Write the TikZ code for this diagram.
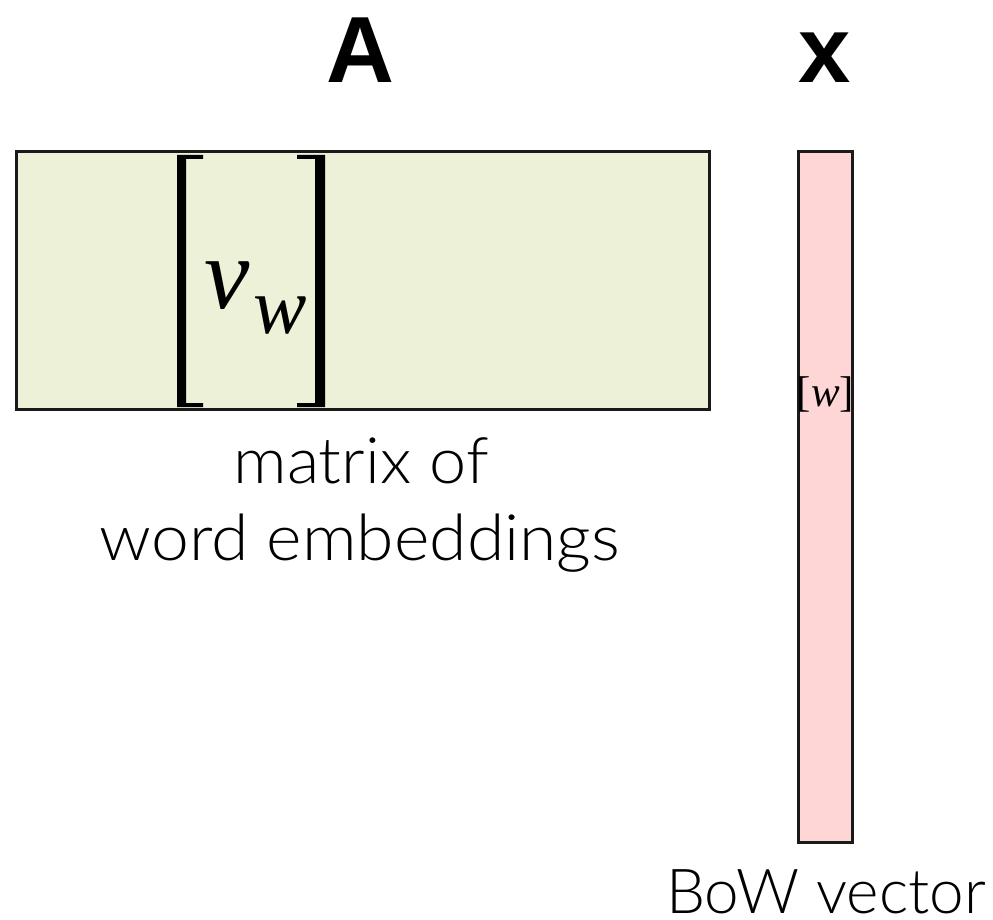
\documentclass[tikz,border=0pt]{standalone}
\usepackage{fontspec}
\newfontfamily\headfont{Liberation Sans}
\newfontfamily\lightfont{Lato Light}
\newfontfamily\mathserif{Liberation Serif}
\definecolor{embfill}{RGB}{236,241,215}
\definecolor{bowfill}{RGB}{255,214,214}
\definecolor{edge}{RGB}{26,26,26}
\tikzset{
  boxline/.style={draw=edge, line width=3.5pt},
  head/.style={inner sep=0pt, anchor=base, font=\headfont\bfseries\fontsize{94}{94}\selectfont},
  caption/.style={inner sep=0pt, anchor=base, font=\lightfont\fontsize{64}{64}\selectfont},
  brk/.style={fill=black, draw=none},
}
\begin{document}
\begin{tikzpicture}[x=1pt, y=-1pt]
  \useasboundingbox (0,0) rectangle (993,920);

  % matrix A and vector x
  \path[boxline, fill=embfill] (16.5,151.5) rectangle (709.5,409.5);
  \path[boxline, fill=bowfill] (798.5,151.5) rectangle (852.5,842.5);

  % titles
  \node[head] (titleA) at (360,83) {A};
  \node[head] (titleX) at (825,83) {x};

  % column bracket around v_w
  \fill[brk] (177,155) -- (203,155) -- (203,159) -- (186,159) -- (186,403)
             -- (203,403) -- (203,407) -- (177,407) -- cycle;
  \fill[brk] (325,155) -- (297,155) -- (297,159) -- (315,159) -- (315,403)
             -- (297,403) -- (297,407) -- (325,407) -- cycle;
  \node[inner sep=0pt, anchor=base west, font=\mathserif\itshape\fontsize{102}{102}\selectfont] (vsym) at (204,308) {v};
  \node[inner sep=0pt, anchor=base west, font=\mathserif\itshape\fontsize{80}{80}\selectfont] (wsub) at (253,333) {w};

  % entry [w] of the BoW vector
  \node[inner sep=0pt, anchor=base, font=\mathserif\fontsize{43}{43}\selectfont] (wentry) at (825.5,406) {[\textit{w}]};

  % captions
  \node[caption, xscale=1.04] (capA1) at (361,483) {matrix of};
  \node[caption, xscale=1.06] (capA2) at (360,560) {word embeddings};
  \node[caption, font=\lightfont\fontsize{62}{62}\selectfont] (capX) at (826,913) {BoW vector};
\end{tikzpicture}
\end{document}
